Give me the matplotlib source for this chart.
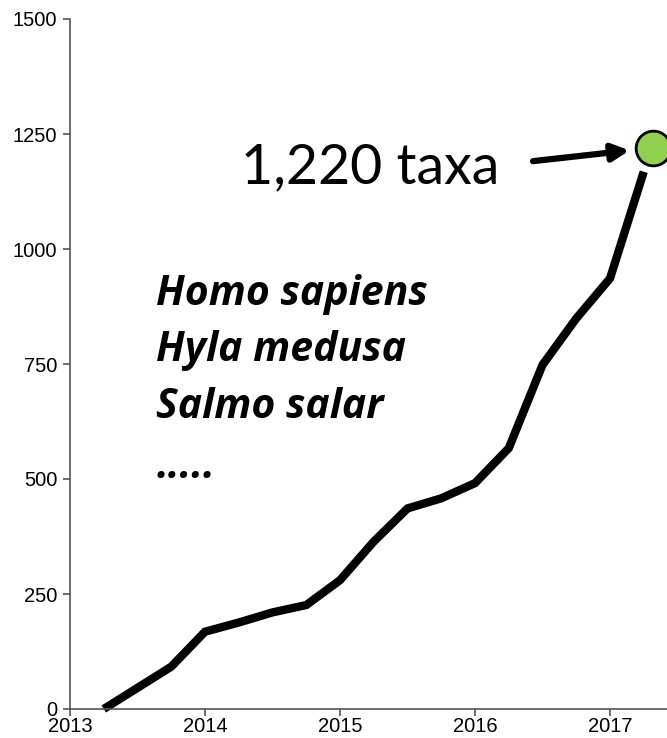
import matplotlib
matplotlib.use("Agg")
import matplotlib.pyplot as plt

# cumulative number of taxa, sampled quarterly
years = [2013.25, 2013.5, 2013.75, 2014.0, 2014.25, 2014.5, 2014.75, 2015.0,
         2015.25, 2015.5, 2015.75, 2016.0, 2016.25, 2016.5, 2016.75, 2017.0,
         2017.25]
taxa = [0, 46, 92, 168, 188, 210, 226, 280,
        364, 436, 458, 491, 567, 748, 849, 936,
        1168]

total_taxa = 1220
total_year = 2017.32

species = ["Homo sapiens", "Hyla medusa", "Salmo salar", "....."]
species_y = [878, 757, 633, 502]

x_ticks = [2013, 2014, 2015, 2016, 2017]
y_ticks = [0, 250, 500, 750, 1000, 1250, 1500]

W, H = 667, 738
fig = plt.figure(figsize=(W / 100, H / 100), dpi=100)
ax = fig.add_axes([70 / W, 29 / H, (W - 70) / W, (709 - 19) / H])

ax.plot(years, taxa, color="black", lw=6, solid_capstyle="butt",
        solid_joinstyle="miter", clip_on=False)

ax.plot([total_year], [total_taxa], "o", ms=25, mfc="#92D050", mec="black",
        mew=2, clip_on=False, zorder=5)

ax.text(2014.27, 1143, f"{total_taxa:,} taxa", fontsize=40,
        family="Lato", va="baseline", ha="left")
ax.annotate("", xy=(total_year, total_taxa), xytext=(2016.43, 1191),
            arrowprops=dict(arrowstyle="-|>,head_length=1.0,head_width=0.5",
                            lw=4.5, color="black", shrinkA=0, shrinkB=17))

for name, yy in zip(species, species_y):
    ax.text(2013.64, yy, name, fontsize=29.5, family="Open Sans",
            weight="bold", style="italic", va="baseline", ha="left")

ax.set_xlim(2013, 2013 + (W - 70) / 135)
ax.set_ylim(0, 1500)
ax.set_xticks(x_ticks)
ax.set_yticks(y_ticks)
ax.set_xticklabels([str(v) for v in x_ticks])
ax.set_yticklabels([str(v) for v in y_ticks])

for side in ("top", "right"):
    ax.spines[side].set_visible(False)
for side in ("left", "bottom"):
    ax.spines[side].set_color("#555555")
    ax.spines[side].set_linewidth(1.2)

ax.tick_params(axis="both", colors="#555555", labelcolor="black",
               labelsize=14.5, width=1.2, length=5)
ax.tick_params(axis="x", pad=1)
ax.tick_params(axis="y", pad=4)
for lab in ax.get_xticklabels() + ax.get_yticklabels():
    lab.set_family("Liberation Sans")

fig.savefig("out.png", dpi=100)
